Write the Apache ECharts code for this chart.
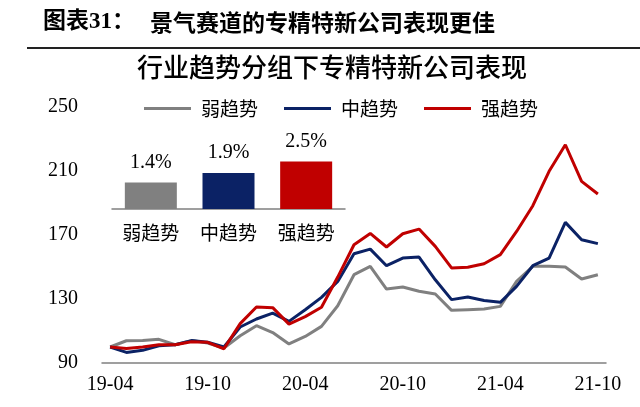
<!DOCTYPE html>
<html><head><meta charset="utf-8">
<script src="https://cdn.jsdelivr.net/npm/echarts@6/dist/echarts.min.js"></script>
<style>html,body{margin:0;padding:0;background:#fff}#c{width:640px;height:407px}</style>
</head><body><div id="c"></div>
<script>
var months = ["19-04","19-05","19-06","19-07","19-08","19-09","19-10","19-11","19-12","20-01","20-02","20-03","20-04","20-05","20-06","20-07","20-08","20-09","20-10","20-11","20-12","21-01","21-02","21-03","21-04","21-05","21-06","21-07","21-08","21-09","21-10"];
var weak = [100,103.9,104,104.8,101.4,104,102.5,99.4,107,113.3,109,101.9,106.6,112.9,125.8,145.2,150.4,136.2,137.5,134.8,133.1,122.9,123.3,123.7,125.4,141,150.4,150.4,150,142.5,145.2];
var mid = [100,96.6,97.9,100.8,101.4,104,103,100,112.5,117.5,121.2,116,123.3,131,141,158.3,161.2,150.8,155.6,156.2,142,129.6,131.2,129.1,127.9,137.9,150.8,155.6,177.9,167,164.6];
var strong = [100,99.1,100,101.4,101.4,103.3,102.9,98.9,114.6,125,124.6,114.3,119,124.8,143.7,163.9,171,162.5,170.8,173.7,162.9,149.4,149.8,152,157.7,172.2,188.3,209.8,226.4,203.5,195.6];
var seriesNames = ["弱趋势","中趋势","强趋势"];
var barValues = [1.4,1.9,2.5];
var yTicks = [90,130,170,210,250];
var colors = ["#808080","#0b2265","#c00000"];

var serif = "'Liberation Serif','Noto Sans CJK SC',serif";
var cjk = "'Noto Sans CJK SC',sans-serif";
var chart = echarts.init(document.getElementById('c'));
chart.setOption({
  animation:false,
  backgroundColor:'#fff',
  graphic:[
    {type:'text',left:43,top:11,style:{text:'图表31：',font:'bold 23px '+serif,fill:'#000'}},
    {type:'text',left:150,top:11,style:{text:'景气赛道的专精特新公司表现更佳',font:'bold 23px '+cjk,fill:'#000'}},
    {type:'rect',left:27,top:47,shape:{width:613,height:2},style:{fill:'#222'}},
    {type:'text',left:137,top:54,style:{text:'行业趋势分组下专精特新公司表现',font:'500 26px '+cjk,fill:'#000'}}
  ],
  legend:{
    data:seriesNames, left:139, top:94, icon:'rect', itemWidth:47, itemHeight:3, itemGap:26,
    textStyle:{fontSize:19,fontFamily:cjk,color:'#000',padding:[0,0,0,5]}
  },
  grid:[
    {left:102,top:107,width:504,height:256},
    {left:112,top:133,width:233,height:76}
  ],
  xAxis:[
    {type:'category',gridIndex:0,data:months,boundaryGap:true,
     axisLine:{lineStyle:{color:'#808080',width:1.5}},
     axisTick:{interval:5,length:6,lineStyle:{color:'#808080',width:1.5}},
     axisLabel:{interval:5,margin:12,fontSize:20,fontFamily:serif,color:'#000'}},
    {type:'category',gridIndex:1,data:seriesNames,boundaryGap:true,
     axisLine:{lineStyle:{color:'#808080',width:1.5}},
     axisTick:{length:5,lineStyle:{color:'#808080',width:1.5}},
     axisLabel:{margin:14,fontSize:19,fontFamily:cjk,color:'#000'}}
  ],
  yAxis:[
    {type:'value',gridIndex:0,min:yTicks[0],max:yTicks[yTicks.length-1],interval:40,
     axisLine:{show:false},axisTick:{show:false},splitLine:{show:false},
     axisLabel:{margin:24,fontSize:20,fontFamily:serif,color:'#000'}},
    {type:'value',gridIndex:1,min:0,max:4,show:false,splitLine:{show:false}}
  ],
  series:[
    {name:seriesNames[0],type:'line',data:weak,symbol:'none',lineStyle:{width:3,color:colors[0]},itemStyle:{color:colors[0]}},
    {name:seriesNames[1],type:'line',data:mid,symbol:'none',lineStyle:{width:3,color:colors[1]},itemStyle:{color:colors[1]}},
    {name:seriesNames[2],type:'line',data:strong,symbol:'none',lineStyle:{width:3,color:colors[2]},itemStyle:{color:colors[2]}},
    {name:'bars',type:'bar',xAxisIndex:1,yAxisIndex:1,barWidth:52,
     data:barValues.map(function(v,i){return {value:v,itemStyle:{color:colors[i]}};}),
     label:{show:true,position:'top',distance:10,formatter:'{c}%',fontSize:20,fontFamily:serif,color:'#000'}}
  ]
});
</script></body></html>
